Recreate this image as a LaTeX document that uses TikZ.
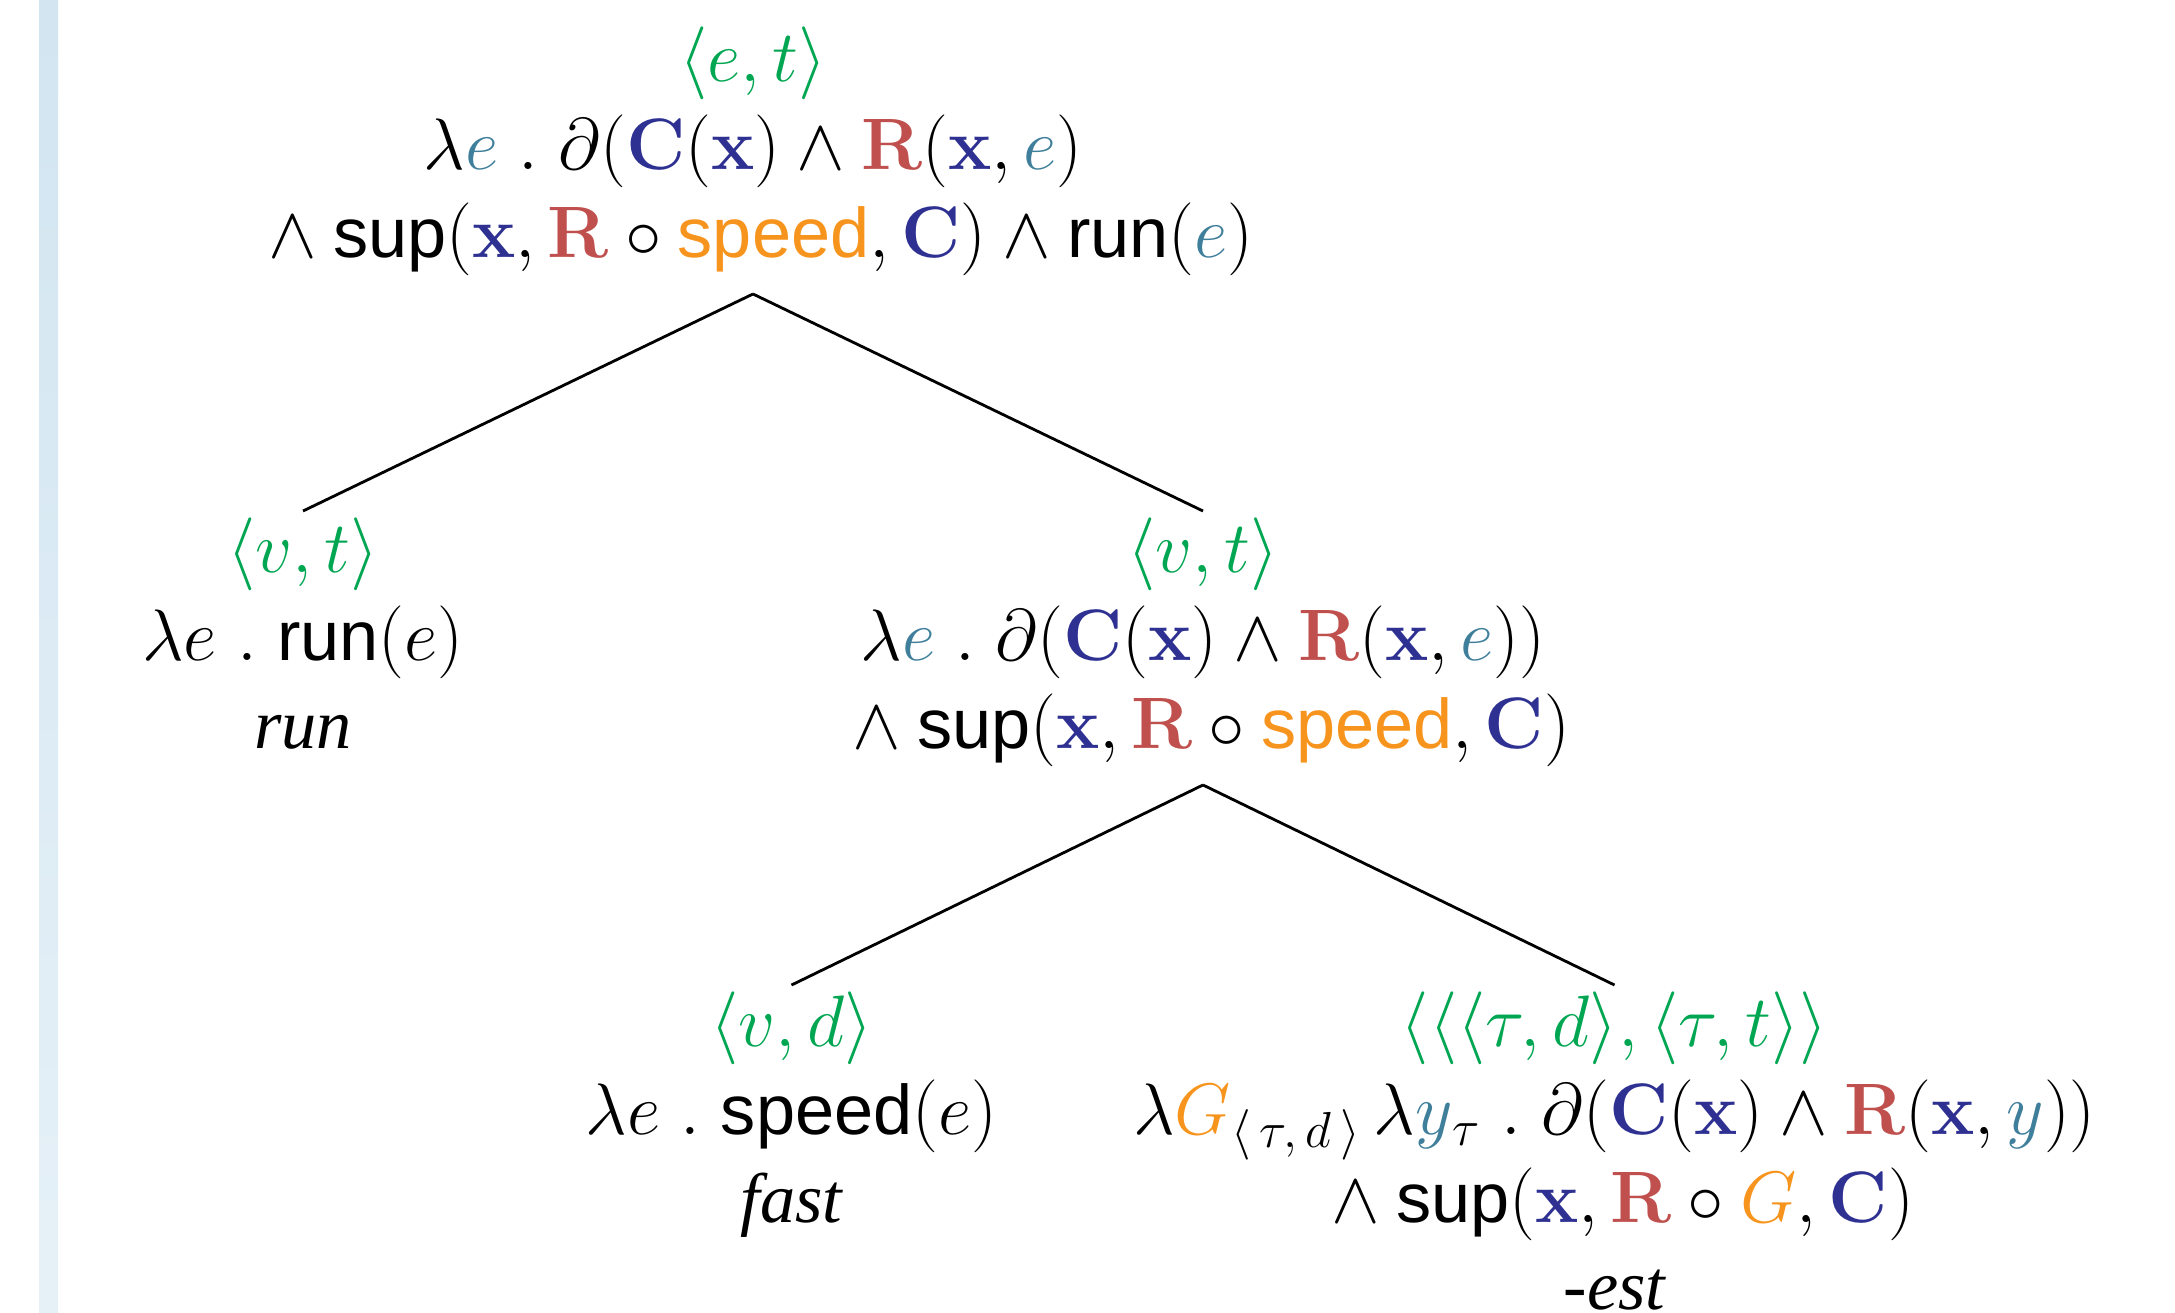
\documentclass[tikz,border=0pt]{standalone}
\usepackage[no-math]{fontspec}
\newfontfamily\helvet{Liberation Sans}
\newfontfamily\timesit{Liberation Serif}
\definecolor{typegreen}{HTML}{00A651}
\definecolor{varteal}{HTML}{3F7F9B}
\definecolor{cblue}{HTML}{2E3192}
\definecolor{rred}{HTML}{C0504D}
\definecolor{gorange}{HTML}{F7941D}
\definecolor{barblue}{HTML}{D2E5F1}
\newcommand{\fn}[1]{\mbox{\helvet #1}}
\newcommand{\wrd}[1]{{\timesit\itshape #1}}
\newcommand{\bC}{{\color{cblue}\mathbf{C}}}
\newcommand{\bx}{{\color{cblue}\mathbf{x}}}
\newcommand{\bR}{{\color{rred}\mathbf{R}}}
\newcommand{\ve}{{\color{varteal}e}}
\newcommand{\tp}[1]{{\color{typegreen}#1}}
\newcommand{\subtd}{\mbox{\fontsize{15}{15}\selectfont$\langle\,\tau,d\,\rangle$}}
\begin{document}
\begin{tikzpicture}[every node/.style={anchor=north, align=center, inner sep=0.06cm,
          font=\fontsize{20}{25}\selectfont},
        growth parent anchor=north,
        edge from parent/.style={draw, line width=0.8pt},
        edge from parent path={([yshift=-0.12cm]\tikzparentnode.south) -- (\tikzchildnode.north)},
        level 1/.style={sibling distance=9cm, level distance=4.91cm},
        level 2/.style={sibling distance=8.23cm, level distance=4.74cm}]
        \useasboundingbox (0,0) rectangle (21.75,-13.12);
        \shade[top color=barblue, bottom color=barblue!55!white] (0.39,0) rectangle (0.58,-13.12);
        \node (root) at (7.53,-0.20) {$\tp{\langle e,t\rangle}$\\
            $\lambda\ve\mathrel{.}\partial(\bC(\bx)\wedge\bR(\bx,\ve)$\\
            ${}\wedge\fn{sup}(\bx,\bR\circ{\color{gorange}\fn{speed}},\bC)\wedge\fn{run}(\ve)$}
          child { node (run) {$\tp{\langle v,t\rangle}$\\
            $\lambda e\mathrel{.}\fn{run}(e)$\\
            \wrd{run}}
          }
          child { node (fastrun) {$\tp{\langle v,t\rangle}$\\
            $\lambda\ve\mathrel{.}\partial(\bC(\bx)\wedge\bR(\bx,\ve))$\\
            ${}\wedge\fn{sup}(\bx,\bR\circ{\color{gorange}\fn{speed}},\bC)$}
            child { node (fast) {$\tp{\langle v,d\rangle}$\\
              $\lambda e\mathrel{.}\fn{speed}(e)$\\
              \wrd{fast}}
            }
            child { node (est) {$\tp{\langle\langle\langle\tau,d\rangle,\langle\tau,t\rangle\rangle}$\\
              $\lambda{\color{gorange}G}_{\subtd}\,\lambda{\color{varteal}y}_{\tau}\mathrel{.}\partial(\bC(\bx)\wedge\bR(\bx,{\color{varteal}y}))$\\
              ${}\wedge\fn{sup}(\bx,\bR\circ{\color{gorange}G},\bC)$\\
              \wrd{-est}}
            }
          };
\end{tikzpicture}
\end{document}
